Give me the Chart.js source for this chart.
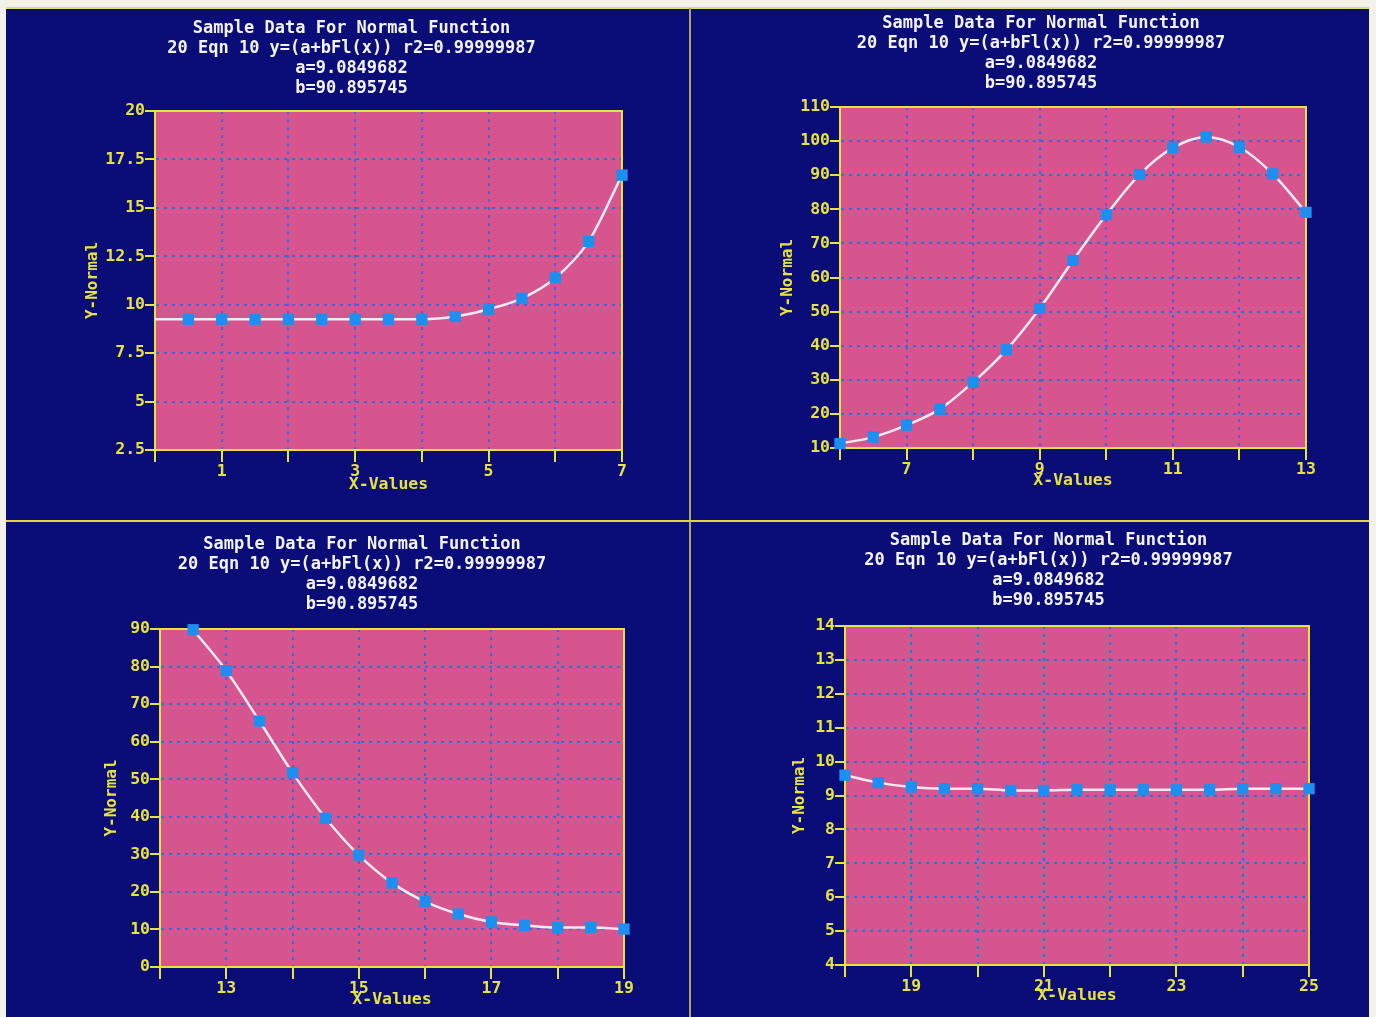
<!DOCTYPE html>
<html>
<head>
<meta charset="utf-8">
<script src="https://cdn.jsdelivr.net/npm/chart.js@4.4.1/dist/chart.umd.min.js"></script>
<style>
  html, body { margin:0; padding:0; background:#f2f2ea; width:1376px; height:1017px; overflow:hidden; }
  #screen { position:absolute; left:6px; top:7px; width:1363px; height:1010px; background:#0a0c78; border-top:2px solid #e2df72; box-sizing:border-box; }
  .sep { position:absolute; }
  canvas { position:absolute; }
</style>
</head>
<body>
<div id="screen"></div>
<div class="sep" style="left:689px;top:8px;width:2px;height:1009px;background:#a9a85c"></div>
<div class="sep" style="left:6px;top:520px;width:1363px;height:2px;background:#dcd83c"></div>
<canvas id="c1" width="656" height="512" style="left:34px;top:8px"></canvas>
<canvas id="c2" width="654" height="510" style="left:720px;top:8px"></canvas>
<canvas id="c3" width="656" height="495" style="left:36px;top:522px"></canvas>
<canvas id="c4" width="652" height="499" style="left:724px;top:518px"></canvas>
<script>
// same title on all four screens
var titleLines = ['Sample Data For Normal Function', '20 Eqn 10 y=(a+bFl(x)) r2=0.99999987', 'a=9.0849682', 'b=90.895745'];
var xTitle = 'X-Values';
var yTitle = 'Y-Normal';

// top left (first x is where the fitted curve starts, no marker)
var x1 = [0, 0.5, 1, 1.5, 2, 2.5, 3, 3.5, 4, 4.5, 5, 5.5, 6, 6.5, 7];
var y1 = [9.25, 9.25, 9.25, 9.25, 9.25, 9.25, 9.25, 9.25, 9.25, 9.39, 9.77, 10.33, 11.38, 13.27, 16.69];
var xTicks1 = [1, 3, 5, 7];

// top right
var x2 = [6, 6.5, 7, 7.5, 8, 8.5, 9, 9.5, 10, 10.5, 11, 11.5, 12, 12.5, 13];
var y2 = [11.3, 13.2, 16.7, 21.4, 29.3, 38.8, 50.9, 65.0, 78.4, 90.2, 98.0, 101.2, 98.2, 90.4, 79.1];
var xTicks2 = [7, 9, 11, 13];

// bottom left
var x3 = [12.5, 13, 13.5, 14, 14.5, 15, 15.5, 16, 16.5, 17, 17.5, 18, 18.5, 19];
var y3 = [89.8, 78.9, 65.5, 51.7, 39.6, 29.8, 22.4, 17.4, 14.1, 12.0, 11.1, 10.5, 10.5, 10.1];
var xTicks3 = [13, 15, 17, 19];

// bottom right
var x4 = [18, 18.5, 19, 19.5, 20, 20.5, 21, 21.5, 22, 22.5, 23, 23.5, 24, 24.5, 25];
var y4 = [9.6, 9.38, 9.25, 9.2, 9.2, 9.15, 9.15, 9.17, 9.17, 9.17, 9.17, 9.17, 9.2, 9.2, 9.2];
var xTicks4 = [19, 21, 23, 25];

var PINK = '#d7558f', YELLOW = '#e6e23e', GRID = '#2f70d8', POINT = '#1d8ff0', CURVE = '#f6eaf2', WHITE = '#f2f2fa';
var FONT = 'DejaVu Sans Mono';

var plotFrame = {
    id: 'plotFrame',
    beforeDraw: function(chart) {
        var a = chart.chartArea, ctx = chart.ctx;
        ctx.save();
        ctx.fillStyle = PINK;
        ctx.fillRect(a.left, a.top, a.right - a.left, a.bottom - a.top);
        ctx.restore();
    },
    beforeDatasetsDraw: function(chart) {
        var a = chart.chartArea, ctx = chart.ctx;
        ctx.save();
        ctx.setLineDash([]);
        ctx.strokeStyle = YELLOW;
        ctx.lineWidth = 2;
        ctx.strokeRect(a.left, a.top, a.right - a.left, a.bottom - a.top);
        ctx.restore();
    }
};

function panel(id, xs, ys, xTicks, xMin, xMax, yMin, yMax, yStep, lay) {
    var pts = xs.map(function(x, i) { return {x: x, y: ys[i]}; });
    new Chart(document.getElementById(id), {
        type: 'line',
        data: {
            datasets: [{
                data: pts,
                borderColor: CURVE,
                borderWidth: 2.5,
                cubicInterpolationMode: 'monotone',
                pointStyle: 'rect',
                pointRadius: function(c) { return (lay.leadIn && c.dataIndex === 0) ? 0 : 8; },
                pointBackgroundColor: POINT,
                pointBorderWidth: 0,
                clip: false
            }]
        },
        options: {
            responsive: false,
            animation: false,
            devicePixelRatio: 1,
            layout: { padding: { left: lay.padL, right: lay.padR, top: 0, bottom: lay.padB } },
            plugins: {
                legend: { display: false },
                tooltip: { enabled: false },
                title: {
                    display: true,
                    text: titleLines,
                    color: WHITE,
                    font: { family: FONT, size: 17, weight: '600', lineHeight: 20 / 17 },
                    padding: { top: lay.titleTop, bottom: lay.titleBottom }
                }
            },
            scales: {
                x: {
                    type: 'linear', min: xMin, max: xMax,
                    afterFit: function(s) { s.height = 48; },
                    ticks: {
                        stepSize: 1, autoSkip: false, maxRotation: 0, padding: 0,
                        color: YELLOW, font: { family: FONT, size: 16.5, weight: 'bold' },
                        callback: function(v) { return xTicks.indexOf(v) >= 0 ? String(v) : ''; }
                    },
                    grid: { color: GRID, lineWidth: 2, tickColor: YELLOW, tickLength: 12, tickBorderDash: [], tickWidth: 2 },
                    border: { color: YELLOW, width: 2, dash: [3, 5] },
                    title: { display: true, text: xTitle, color: YELLOW, font: { family: FONT, size: 16.5, weight: 'bold' }, padding: { top: 0, bottom: lay.xTitlePad } }
                },
                y: {
                    min: yMin, max: yMax,
                    afterFit: function(s) { s.width = lay.yWidth; },
                    ticks: {
                        stepSize: yStep, padding: 0,
                        color: YELLOW, font: { family: FONT, size: 16.5, weight: 'bold' },
                        callback: function(v) { return String(v); }
                    },
                    grid: { color: GRID, lineWidth: 2, tickColor: YELLOW, tickLength: 10, tickBorderDash: [], tickWidth: 2 },
                    border: { color: YELLOW, width: 2, dash: [3, 5] },
                    title: { display: true, text: yTitle, color: YELLOW, font: { family: FONT, size: 16, weight: 'bold' }, padding: { top: 2, bottom: 0 } }
                }
            }
        },
        plugins: [plotFrame]
    });
}

panel('c1', x1, y1, xTicks1, 0, 7, 2.5, 20, 2.5, { padL: 47, padR: 68, padB: 22, titleTop: 11, titleBottom: 12, yWidth: 74, xTitlePad: 3, leadIn: true });
panel('c2', x2, y2, xTicks2, 6, 13, 10, 110, 10, { padL: 56, padR: 68, padB: 22, titleTop: 6, titleBottom: 13, yWidth: 64, xTitlePad: 5 });
panel('c3', x3, y3, xTicks3, 12, 19, 0, 90, 10, { padL: 64, padR: 68, padB: 2, titleTop: 13, titleBottom: 14, yWidth: 60, xTitlePad: 5 });
panel('c4', x4, y4, xTicks4, 18, 25, 4, 14, 1, { padL: 64, padR: 67, padB: 4, titleTop: 13, titleBottom: 15, yWidth: 57, xTitlePad: 7 });
</script>
</body>
</html>
